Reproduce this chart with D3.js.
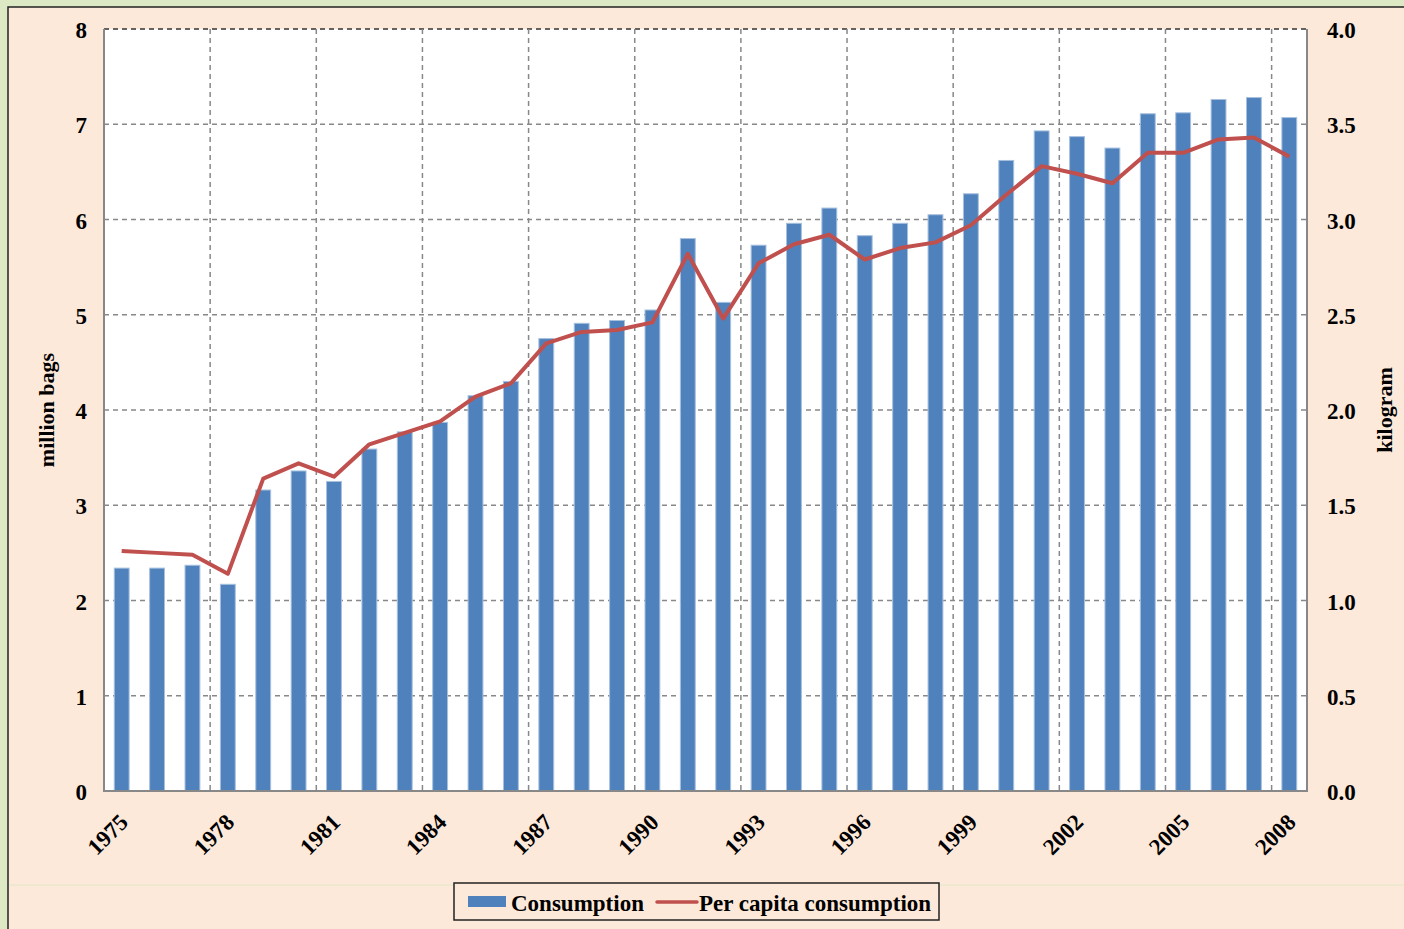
<!DOCTYPE html>
<html lang="en">
<head>
  <meta charset="UTF-8" />
  <title>Consumption chart</title>
  <script src="https://d3js.org/d3.v7.min.js"></script>
  <style>
    html, body { margin: 0; padding: 0; background: #dde9c4; }
    svg { display: block; }
    text { font-family: "Liberation Serif", "Times New Roman", serif; font-weight: bold; fill: #000; }
  </style>
</head>
<body>
  <svg id="chart" width="1404" height="929"></svg>

  <script>
    const years = d3.range(1975, 2009).map(String);
    const consumption = [
      2.34, 2.34, 2.37, 2.17, 3.16, 3.36, 3.25, 3.59, 3.77, 3.87,
      4.15, 4.30, 4.75, 4.91, 4.94, 5.05, 5.80, 5.13, 5.73, 5.96,
      6.12, 5.83, 5.96, 6.05, 6.27, 6.62, 6.93, 6.87, 6.75, 7.11,
      7.12, 7.26, 7.28, 7.07
    ];
    const perCapita = [
      1.26, 1.25, 1.24, 1.14, 1.64, 1.72, 1.65, 1.82, 1.88, 1.94,
      2.07, 2.14, 2.35, 2.41, 2.42, 2.46, 2.82, 2.48, 2.77, 2.87,
      2.92, 2.79, 2.85, 2.88, 2.97, 3.13, 3.28, 3.24, 3.19, 3.35,
      3.35, 3.42, 3.43, 3.33
    ];
    const leftTicks = [0, 1, 2, 3, 4, 5, 6, 7, 8];
    const rightTicks = [0, 0.5, 1, 1.5, 2, 2.5, 3, 3.5, 4];
    const labelYears = years.filter((d, i) => i % 3 === 0);

    const svg = d3.select("#chart");
    const m = { left: 104, right: 1307, top: 29, bottom: 791 };

    // frame
    svg.append("rect").attr("x", 8).attr("y", 7).attr("width", 1404).attr("height", 930)
      .attr("fill", "#fde9d9").attr("stroke", "#222").attr("stroke-width", 1.5);
    svg.append("line").attr("x1", 9).attr("x2", 1404).attr("y1", 885).attr("y2", 885)
      .attr("stroke", "#dfe8c6").attr("stroke-width", 1);

    const x = d3.scaleBand().domain(years).range([m.left, m.right]).paddingInner(0).paddingOuter(0);
    const y = d3.scaleLinear().domain([0, 8]).range([m.bottom, m.top]);
    const y2 = d3.scaleLinear().domain([0, 4]).range([m.bottom, m.top]);

    svg.append("rect").attr("x", m.left).attr("y", m.top)
      .attr("width", m.right - m.left).attr("height", m.bottom - m.top).attr("fill", "#fff");

    // horizontal grid
    svg.append("g").selectAll("line").data(leftTicks.filter(d => d > 0))
      .join("line")
      .attr("x1", m.left).attr("x2", m.right)
      .attr("y1", d => y(d)).attr("y2", d => y(d))
      .attr("stroke", d => d === 8 ? "#333" : "#888").attr("stroke-width", 1.5)
      .attr("stroke-dasharray", "5,4");

    // vertical grid at category boundaries every 3 years
    const vIdx = d3.range(3, years.length, 3);
    svg.append("g").selectAll("line").data(vIdx)
      .join("line")
      .attr("x1", i => x(years[i])).attr("x2", i => x(years[i]))
      .attr("y1", m.top).attr("y2", m.bottom)
      .attr("stroke", "#888").attr("stroke-width", 1.5)
      .attr("stroke-dasharray", "5,4");

    // bars
    const bw = x.bandwidth() * 0.42;
    svg.append("g").selectAll("rect").data(consumption)
      .join("rect")
      .attr("x", (d, i) => x(years[i]) + x.bandwidth() / 2 - bw / 2)
      .attr("y", d => y(d))
      .attr("width", bw)
      .attr("height", d => y(0) - y(d))
      .attr("fill", "#4f81bd")
      .attr("stroke", "#a7c0de").attr("stroke-width", 1);

    // per-capita line
    const line = d3.line()
      .x((d, i) => x(years[i]) + x.bandwidth() / 2)
      .y(d => y2(d));
    svg.append("path").datum(perCapita)
      .attr("d", line)
      .attr("fill", "none")
      .attr("stroke", "#c0504d").attr("stroke-width", 4)
      .attr("stroke-linejoin", "round");

    // plot borders
    svg.append("line").attr("x1", m.left).attr("x2", m.left).attr("y1", m.top).attr("y2", m.bottom + 1)
      .attr("stroke", "#888").attr("stroke-width", 2);
    svg.append("line").attr("x1", m.left).attr("x2", m.right + 1).attr("y1", m.bottom).attr("y2", m.bottom)
      .attr("stroke", "#888").attr("stroke-width", 2);
    svg.append("line").attr("x1", m.right).attr("x2", m.right).attr("y1", m.top).attr("y2", m.bottom)
      .attr("stroke", "#888").attr("stroke-width", 2);

    // left axis labels
    svg.append("g").selectAll("text").data(leftTicks)
      .join("text")
      .attr("x", 87).attr("y", d => y(d) + 1)
      .attr("dy", "0.35em")
      .attr("text-anchor", "end")
      .style("font-size", "23px")
      .text(d => d);

    // right axis labels
    svg.append("g").selectAll("text").data(rightTicks)
      .join("text")
      .attr("x", 1327).attr("y", d => y2(d) + 1)
      .attr("dy", "0.35em")
      .attr("text-anchor", "start")
      .style("font-size", "23px")
      .text(d => d3.format(".1f")(d));

    // x labels, rotated
    svg.append("g").selectAll("text").data(labelYears)
      .join("text")
      .attr("transform", d => `translate(${x(d) + x.bandwidth() / 2 + 2},${m.bottom + 27}) rotate(-45)`)
      .attr("text-anchor", "end")
      .attr("dy", "0.35em")
      .style("font-size", "23px")
      .text(d => d);

    // axis titles
    svg.append("text")
      .attr("transform", `translate(54,${(m.top + m.bottom) / 2}) rotate(-90)`)
      .attr("text-anchor", "middle")
      .style("font-size", "22px")
      .text("million bags");
    svg.append("text")
      .attr("transform", `translate(1392,${(m.top + m.bottom) / 2}) rotate(-90)`)
      .attr("text-anchor", "middle")
      .style("font-size", "22px")
      .text("kilogram");

    // legend
    const lg = svg.append("g").attr("transform", "translate(454,883)");
    lg.append("rect").attr("width", 485).attr("height", 37)
      .attr("fill", "#fde9d9").attr("stroke", "#222").attr("stroke-width", 1.5);
    lg.append("rect").attr("x", 14).attr("y", 13).attr("width", 38).attr("height", 11).attr("fill", "#4f81bd");
    lg.append("text").attr("x", 57).attr("y", 20).attr("dy", "0.35em")
      .style("font-size", "23px").text("Consumption");
    lg.append("line").attr("x1", 203).attr("x2", 243).attr("y1", 19).attr("y2", 19)
      .attr("stroke", "#c0504d").attr("stroke-width", 3.5).attr("stroke-linecap", "round");
    lg.append("text").attr("x", 245).attr("y", 20).attr("dy", "0.35em")
      .style("font-size", "23px").text("Per capita consumption");
  </script>
</body>
</html>
